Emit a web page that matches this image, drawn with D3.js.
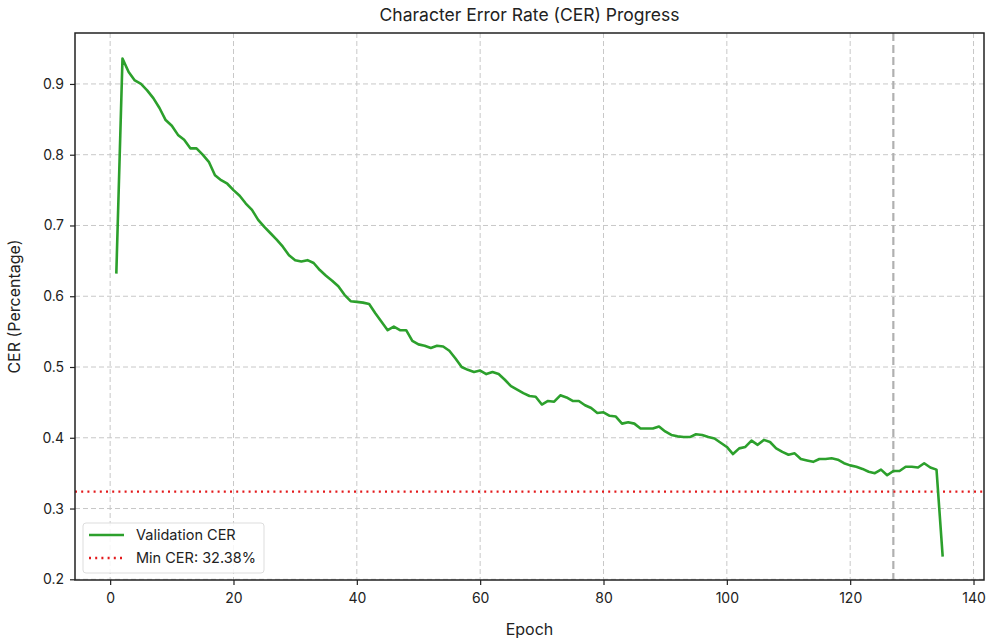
<!DOCTYPE html>
<html>
<head>
<meta charset="utf-8">
<script src="https://cdn.jsdelivr.net/npm/d3@7"></script>
<style>
  body { margin: 0; background: #fff; }
  text { font-family: Inter, "Open Sans", sans-serif; fill: #222; }
</style>
</head>
<body>
<div id="chart"></div>
<script>
const epochs = d3.range(1, 136);
const cerValues = [
  0.632, 0.936, 0.917, 0.905, 0.900, 0.891, 0.880, 0.866, 0.849, 0.841,
  0.828, 0.821, 0.809, 0.809, 0.800, 0.790, 0.771, 0.764, 0.759, 0.750,
  0.742, 0.731, 0.722, 0.708, 0.698, 0.689, 0.680, 0.670, 0.658, 0.651,
  0.649, 0.651, 0.647, 0.637, 0.629, 0.622, 0.614, 0.602, 0.593, 0.592,
  0.591, 0.589, 0.576, 0.564, 0.552, 0.557, 0.552, 0.552, 0.537, 0.532,
  0.530, 0.527, 0.530, 0.529, 0.523, 0.512, 0.500, 0.496, 0.493, 0.495,
  0.490, 0.493, 0.490, 0.482, 0.473, 0.468, 0.463, 0.459, 0.458, 0.447,
  0.452, 0.451, 0.460, 0.457, 0.452, 0.452, 0.446, 0.442, 0.435, 0.436,
  0.431, 0.430, 0.420, 0.422, 0.420, 0.413, 0.413, 0.413, 0.416, 0.409,
  0.404, 0.402, 0.401, 0.401, 0.405, 0.404, 0.401, 0.399, 0.393, 0.387,
  0.377, 0.385, 0.387, 0.396, 0.390, 0.397, 0.394, 0.385, 0.380, 0.376,
  0.378, 0.370, 0.368, 0.366, 0.370, 0.370, 0.371, 0.369, 0.364, 0.361,
  0.359, 0.356, 0.352, 0.350, 0.355, 0.347, 0.353, 0.353, 0.359, 0.359,
  0.358, 0.364, 0.358, 0.355, 0.232
];
const minCer = 0.3238;
const bestEpoch = 127;
const xTicks = [0, 20, 40, 60, 80, 100, 120, 140];
const yTicks = [0.2, 0.3, 0.4, 0.5, 0.6, 0.7, 0.8, 0.9];

const width = 995, height = 640;
const margin = { top: 33, right: 11, bottom: 60, left: 75 };

const svg = d3.select('#chart').append('svg')
  .attr('width', width)
  .attr('height', height);

const x = d3.scaleLinear().domain([-5.7, 141.7]).range([margin.left, width - margin.right]);
const y = d3.scaleLinear().domain([0.199, 0.972]).range([height - margin.bottom, margin.top]);

// grid
svg.append('g').selectAll('line').data(xTicks).join('line')
  .attr('x1', d => x(d)).attr('x2', d => x(d))
  .attr('y1', margin.top).attr('y2', height - margin.bottom)
  .attr('stroke', '#c8c8c8').attr('stroke-width', 1).attr('stroke-dasharray', '5,3');
svg.append('g').selectAll('line').data(yTicks).join('line')
  .attr('x1', margin.left).attr('x2', width - margin.right)
  .attr('y1', d => y(d)).attr('y2', d => y(d))
  .attr('stroke', '#c8c8c8').attr('stroke-width', 1).attr('stroke-dasharray', '5,3');

// best epoch marker
svg.append('line')
  .attr('x1', x(bestEpoch)).attr('x2', x(bestEpoch))
  .attr('y1', margin.top).attr('y2', height - margin.bottom)
  .attr('stroke', '#b0b0b0').attr('stroke-width', 2.2).attr('stroke-dasharray', '8,4');

// min line
svg.append('line')
  .attr('x1', margin.left).attr('x2', width - margin.right)
  .attr('y1', y(minCer)).attr('y2', y(minCer))
  .attr('stroke', '#e31a1c').attr('stroke-width', 2.2).attr('stroke-dasharray', '2,4.2');

// cer line
const line = d3.line().x((d, i) => x(epochs[i])).y(d => y(d));
svg.append('path')
  .datum(cerValues)
  .attr('d', line)
  .attr('fill', 'none')
  .attr('stroke', '#2ca02c')
  .attr('stroke-width', 2.6)
  .attr('stroke-linejoin', 'round');

// axes
const xAxis = svg.append('g')
  .attr('transform', `translate(0,${height - margin.bottom})`)
  .call(d3.axisBottom(x).tickValues(xTicks).tickSize(5).tickPadding(8).tickFormat(d3.format('d')));
const yAxis = svg.append('g')
  .attr('transform', `translate(${margin.left},0)`)
  .call(d3.axisLeft(y).tickValues(yTicks).tickSize(5).tickPadding(6).tickFormat(d3.format('.1f')));
[xAxis, yAxis].forEach(a => {
  a.select('.domain').remove();
  a.selectAll('line').attr('stroke', '#222').attr('stroke-width', 1.2);
  a.selectAll('text').style('font-size', '14px').attr('fill', '#222');
});

// frame
svg.append('rect')
  .attr('x', margin.left).attr('y', margin.top)
  .attr('width', width - margin.left - margin.right)
  .attr('height', height - margin.top - margin.bottom)
  .attr('fill', 'none').attr('stroke', '#222').attr('stroke-width', 1.5);

// labels
svg.append('text')
  .attr('x', (margin.left + width - margin.right) / 2).attr('y', 21)
  .attr('text-anchor', 'middle').style('font-size', '17.5px')
  .text('Character Error Rate (CER) Progress');
svg.append('text')
  .attr('x', (margin.left + width - margin.right) / 2).attr('y', 635)
  .attr('text-anchor', 'middle').style('font-size', '16px')
  .text('Epoch');
svg.append('text')
  .attr('transform', `translate(20,${(margin.top + height - margin.bottom) / 2}) rotate(-90)`)
  .attr('text-anchor', 'middle').style('font-size', '16px')
  .text('CER (Percentage)');

// legend
const legend = svg.append('g').attr('transform', 'translate(83,523)');
legend.append('rect')
  .attr('width', 181).attr('height', 50).attr('rx', 3)
  .attr('fill', 'rgba(255,255,255,0.85)').attr('stroke', '#ddd');
const items = [
  { label: 'Validation CER', color: '#2ca02c', dash: null },
  { label: 'Min CER: 32.38%', color: '#e31a1c', dash: '2,4.2' }
];
items.forEach((it, i) => {
  legend.append('line')
    .attr('x1', 6).attr('x2', 41).attr('y1', 12 + i * 23).attr('y2', 12 + i * 23)
    .attr('stroke', it.color).attr('stroke-width', 2.6)
    .attr('stroke-dasharray', it.dash);
  legend.append('text')
    .attr('x', 53).attr('y', 17 + i * 23)
    .style('font-size', '14.5px')
    .text(it.label);
});
</script>
</body>
</html>
